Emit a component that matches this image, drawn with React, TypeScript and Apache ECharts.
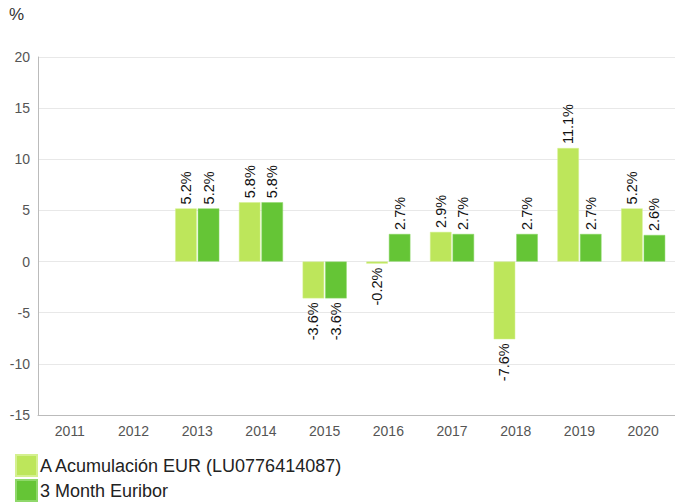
import React, { useEffect, useRef } from "react";
import * as echarts from "echarts";

const categories = ["2011", "2012", "2013", "2014", "2015", "2016", "2017", "2018", "2019", "2020"];
const fundName = "A Acumulación EUR (LU0776414087)";
const benchName = "3 Month Euribor";
const fundValues: (number | null)[] = [null, null, 5.2, 5.8, -3.6, -0.2, 2.9, -7.6, 11.1, 5.2];
const benchValues: (number | null)[] = [null, null, 5.2, 5.8, -3.6, 2.7, 2.7, 2.7, 2.7, 2.6];
const yMin = -15;
const yMax = 20;
const yStep = 5;

const LIGHT = "#bde65b";
const DARK = "#65c536";

function toData(vals: (number | null)[]) {
  return vals.map((v) => {
    if (v === null) return null;
    const neg = v < 0;
    return {
      value: v,
      label: {
        show: true,
        position: neg ? "bottom" : "top",
        rotate: 90,
        align: neg ? "right" : "left",
        verticalAlign: "middle",
        distance: 4,
        formatter: () => v.toFixed(1) + "%",
        fontSize: 14.5,
        color: "#111",
        fontFamily: "Liberation Sans, Arial, sans-serif",
      },
    };
  });
}

export default function App() {
  const ref = useRef<HTMLDivElement>(null);
  useEffect(() => {
    if (!ref.current) return;
    const chart = echarts.init(ref.current, undefined, { renderer: "svg" });
    const font = "Liberation Sans, Arial, sans-serif";
    const legendBase = {
      orient: "vertical",
      left: 15,
      padding: 0,
      itemWidth: 21,
      itemHeight: 21,
      icon: "rect",
      textStyle: { fontSize: 18, color: "#222", fontFamily: font, padding: [0, 0, 0, -2] },
    };
    chart.setOption({
      animation: false,
      textStyle: { fontFamily: font },
      graphic: [
        {
          type: "text",
          left: 9,
          top: 6,
          style: { text: "%", fontSize: 17, fill: "#333", fontFamily: font },
        },
      ],
      legend: [
        { ...legendBase, top: 454, data: [fundName] },
        { ...legendBase, top: 479, data: [benchName] },
      ],
      grid: { left: 38, top: 57, width: 643, height: 358, containLabel: false },
      xAxis: {
        type: "category",
        data: categories,
        axisTick: { show: false },
        axisLine: { show: true, onZero: false, lineStyle: { color: "#bbbbbb" } },
        axisLabel: { fontSize: 14, color: "#555", margin: 9, fontFamily: font },
        splitLine: { show: false },
      },
      yAxis: {
        type: "value",
        min: yMin,
        max: yMax,
        interval: yStep,
        axisLine: { show: true, lineStyle: { color: "#bbbbbb" } },
        axisTick: { show: false },
        axisLabel: { fontSize: 14, color: "#555", margin: 8, fontFamily: font },
        splitLine: { lineStyle: { color: "#e8e8e8" } },
      },
      series: [
        {
          name: fundName,
          type: "bar",
          data: toData(fundValues),
          barWidth: 21.5,
          barGap: "5%",
          itemStyle: { color: LIGHT, borderColor: "#d4f08f", borderWidth: 0.5 },
        },
        {
          name: benchName,
          type: "bar",
          data: toData(benchValues),
          barWidth: 21.5,
          itemStyle: { color: DARK, borderColor: "#8fd86a", borderWidth: 0.5 },
        },
      ],
    });
    return () => chart.dispose();
  }, []);
  return (
    <div
      ref={ref}
      style={{ position: "fixed", left: 0, top: 0, width: 675, height: 502, background: "#fff" }}
    />
  );
}
